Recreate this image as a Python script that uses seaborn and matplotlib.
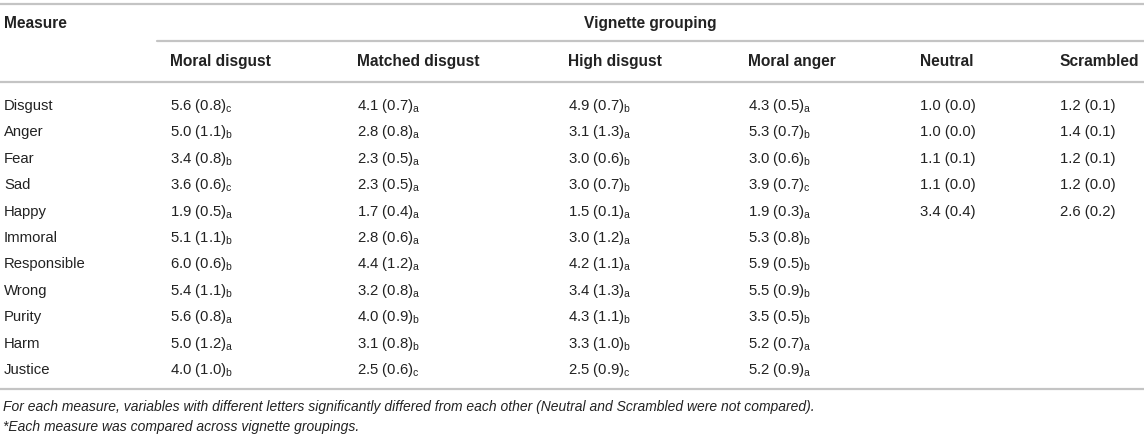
import matplotlib
matplotlib.use("Agg")
import matplotlib.pyplot as plt
import seaborn as sns

measures = ["Disgust", "Anger", "Fear", "Sad", "Happy", "Immoral",
            "Responsible", "Wrong", "Purity", "Harm", "Justice"]

groups = ["Moral disgust", "Matched disgust", "High disgust",
          "Moral anger", "Neutral", "Scrambled"]

moral_disgust_m = [5.6, 5.0, 3.4, 3.6, 1.9, 5.1, 6.0, 5.4, 5.6, 5.0, 4.0]
moral_disgust_sd = [0.8, 1.1, 0.8, 0.6, 0.5, 1.1, 0.6, 1.1, 0.8, 1.2, 1.0]
moral_disgust_let = "cbbcabbbaab"

matched_disgust_m = [4.1, 2.8, 2.3, 2.3, 1.7, 2.8, 4.4, 3.2, 4.0, 3.1, 2.5]
matched_disgust_sd = [0.7, 0.8, 0.5, 0.5, 0.4, 0.6, 1.2, 0.8, 0.9, 0.8, 0.6]
matched_disgust_let = "aaaaaaaabbc"

high_disgust_m = [4.9, 3.1, 3.0, 3.0, 1.5, 3.0, 4.2, 3.4, 4.3, 3.3, 2.5]
high_disgust_sd = [0.7, 1.3, 0.6, 0.7, 0.1, 1.2, 1.1, 1.3, 1.1, 1.0, 0.9]
high_disgust_let = "babbaaaabbc"

moral_anger_m = [4.3, 5.3, 3.0, 3.9, 1.9, 5.3, 5.9, 5.5, 3.5, 5.2, 5.2]
moral_anger_sd = [0.5, 0.7, 0.6, 0.7, 0.3, 0.8, 0.5, 0.9, 0.5, 0.7, 0.9]
moral_anger_let = "abbcabbbbaa"

neutral_m = [1.0, 1.0, 1.1, 1.1, 3.4]
neutral_sd = [0.0, 0.0, 0.1, 0.0, 0.4]

scrambled_m = [1.2, 1.4, 1.2, 1.2, 2.6]
scrambled_sd = [0.1, 0.1, 0.1, 0.0, 0.2]

footnotes = [
    "For each measure, variables with different letters significantly differed "
    "from each other (Neutral and Scrambled were not compared).",
    "*Each measure was compared across vignette groupings.",
]

columns = [
    (moral_disgust_m, moral_disgust_sd, moral_disgust_let),
    (matched_disgust_m, matched_disgust_sd, matched_disgust_let),
    (high_disgust_m, high_disgust_sd, high_disgust_let),
    (moral_anger_m, moral_anger_sd, moral_anger_let),
    (neutral_m, neutral_sd, None),
    (scrambled_m, scrambled_sd, None),
]

sns.set_theme(style="white")
plt.rcParams["font.family"] = ["Liberation Sans", "DejaVu Sans"]
plt.rcParams["mathtext.fontset"] = "custom"
plt.rcParams["mathtext.rm"] = "Liberation Sans"
plt.rcParams["mathtext.default"] = "regular"

W, H = 1144, 438
fig = plt.figure(figsize=(W / 100, H / 100), dpi=100)
ax = fig.add_axes([0, 0, 1, 1])
ax.set_xlim(0, W)
ax.set_ylim(H, 0)
ax.axis("off")

txt = "#222222"
rule = "#c4c4c4"
fs = 10.7
hfs = 11.2

col_x = [170, 357, 568, 748, 920, 1060]
row0, step = 105, 26.4

# rules
ax.plot([0, W], [4, 4], color=rule, lw=1.6)
ax.plot([157, W], [41, 41], color=rule, lw=1.6)
ax.plot([0, W], [82, 82], color=rule, lw=1.6)
ax.plot([0, W], [389, 389], color=rule, lw=1.6)

# headers (baseline aligned)
ax.text(4, 28, "Measure", fontsize=hfs, fontweight="bold", color=txt, va="baseline")
ax.text((157 + W) / 2, 28, "Vignette grouping", fontsize=hfs, fontweight="bold",
        color=txt, va="baseline", ha="center")
for x, g in zip(col_x, groups):
    ax.text(x, 66, g, fontsize=hfs, fontweight="bold", color=txt, va="baseline")

# body
for i, m in enumerate(measures):
    y = row0 + i * step
    ax.text(4, y + 5, m, fontsize=fs, color=txt, va="baseline")

for x, (means, sds, lets) in zip(col_x, columns):
    for i, (mu, sd) in enumerate(zip(means, sds)):
        y = row0 + i * step
        s = f"{mu:.1f} ({sd:.1f})"
        if lets is not None:
            s += f"$_{{{lets[i]}}}$"
        ax.text(x, y + 5, s, fontsize=fs, color=txt, va="baseline")

for j, note in enumerate(footnotes):
    ax.text(3, 411 + j * 20, note, fontsize=10, style="italic", color=txt,
            va="baseline")

fig.savefig("out.png", dpi=100)
